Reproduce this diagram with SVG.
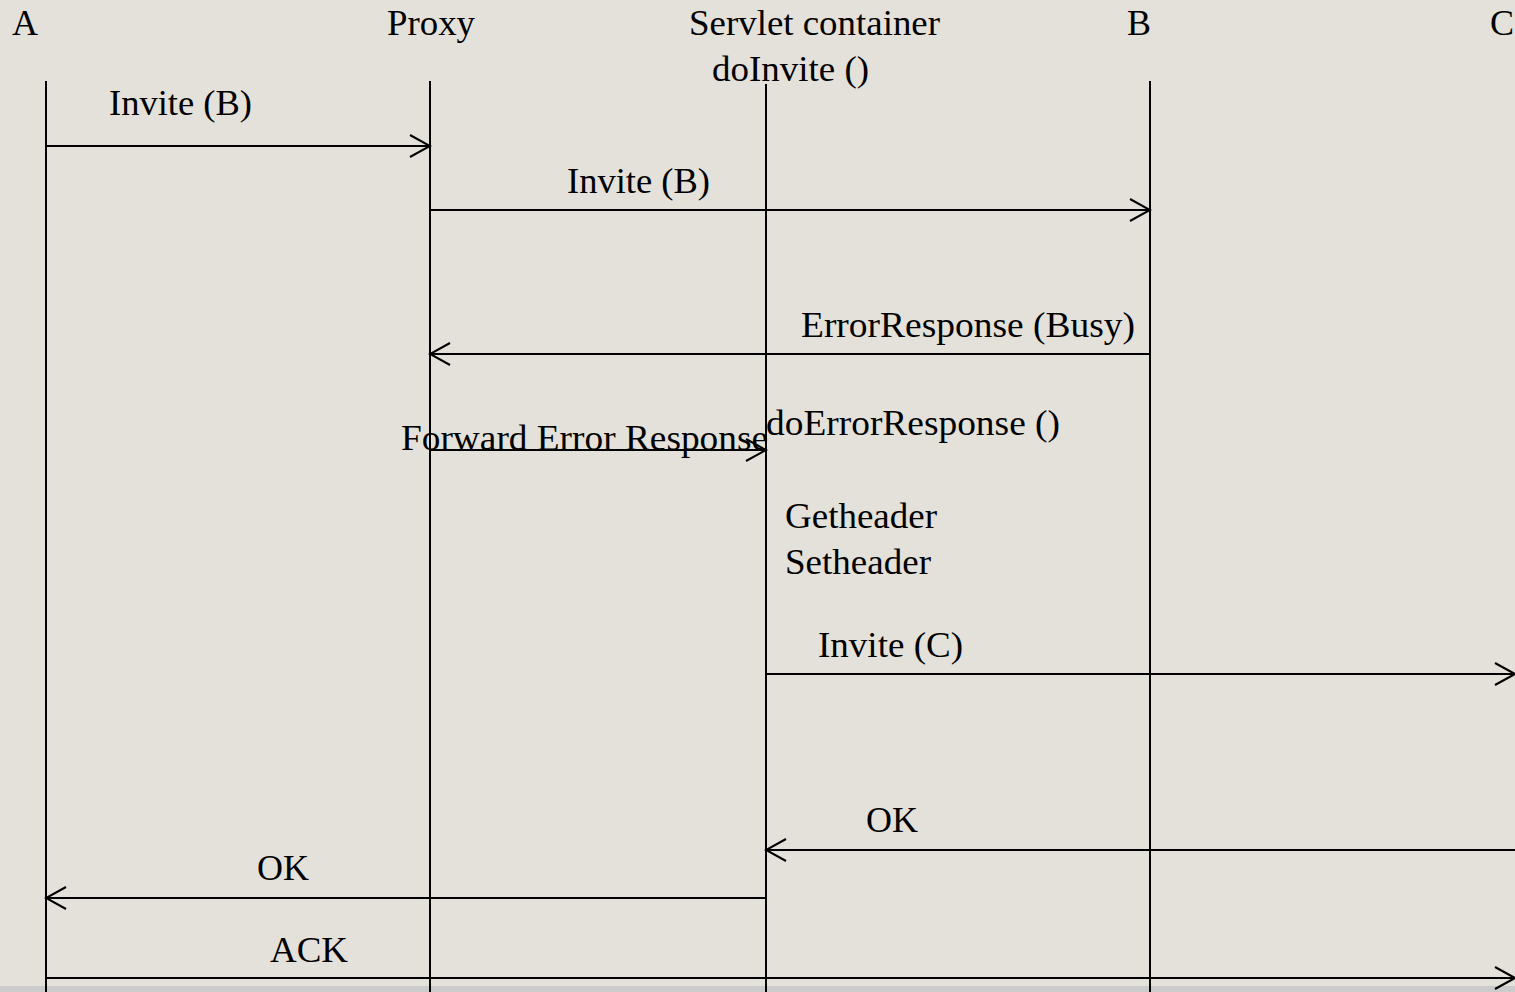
<svg xmlns="http://www.w3.org/2000/svg" width="1515" height="992" viewBox="0 0 1515 992">
  <defs>
    <marker id="open" viewBox="-22 -13 24 26" refX="0" refY="0" markerWidth="24" markerHeight="26" markerUnits="userSpaceOnUse" orient="auto">
      <path d="M-20,-11 L0,0 L-20,11" fill="none" stroke="#000" stroke-width="2"/>
    </marker>
    <style>
      text { font-family: "Liberation Serif", "Times New Roman", serif; font-size: 36px; fill: #000; }
      .life { stroke: #000; stroke-width: 2; }
      .msg { stroke: #000; stroke-width: 2; fill: none; marker-end: url(#open); }
    </style>
  </defs>

  <rect x="0" y="0" width="1515" height="992" fill="#e4e1da"/>
  <rect x="0" y="986" width="1515" height="6" fill="#cbcbcb"/>

  <!-- participants with their lifelines -->
  <g id="node-a">
    <text x="12" y="35">A</text>
    <line class="life" x1="46" y1="81" x2="46" y2="992"/>
  </g>
  <g id="node-proxy">
    <text x="387" y="35" textLength="88" lengthAdjust="spacingAndGlyphs">Proxy</text>
    <line class="life" x1="430" y1="81" x2="430" y2="992"/>
  </g>
  <g id="node-servlet">
    <text x="689" y="35" textLength="251" lengthAdjust="spacingAndGlyphs">Servlet container</text>
    <text x="712" y="81" textLength="157" lengthAdjust="spacingAndGlyphs">doInvite ()</text>
    <line class="life" x1="766" y1="84" x2="766" y2="992"/>
    <text x="766" y="435" textLength="294" lengthAdjust="spacingAndGlyphs">doErrorResponse ()</text>
    <text x="785" y="528" textLength="152" lengthAdjust="spacingAndGlyphs">Getheader</text>
    <text x="785" y="574" textLength="146" lengthAdjust="spacingAndGlyphs">Setheader</text>
  </g>
  <g id="node-b">
    <text x="1127" y="35">B</text>
    <line class="life" x1="1150" y1="81" x2="1150" y2="992"/>
  </g>
  <g id="node-c">
    <text x="1490" y="35">C</text>
  </g>

  <!-- messages -->
  <g id="connectors">
    <line class="msg" x1="46" y1="146" x2="430" y2="146"/>
    <text x="109" y="115" textLength="143" lengthAdjust="spacingAndGlyphs">Invite (B)</text>

    <line class="msg" x1="430" y1="210" x2="1150" y2="210"/>
    <text x="567" y="193" textLength="143" lengthAdjust="spacingAndGlyphs">Invite (B)</text>

    <line class="msg" x1="1150" y1="354" x2="430" y2="354"/>
    <text x="801" y="337" textLength="334" lengthAdjust="spacingAndGlyphs">ErrorResponse (Busy)</text>

    <line class="msg" x1="430" y1="450" x2="766" y2="450"/>
    <text x="401" y="450" textLength="367" lengthAdjust="spacingAndGlyphs">Forward Error Response</text>

    <line class="msg" x1="766" y1="674" x2="1515" y2="674"/>
    <text x="818" y="657" textLength="145" lengthAdjust="spacingAndGlyphs">Invite (C)</text>

    <line class="msg" x1="1515" y1="850" x2="766" y2="850"/>
    <text x="866" y="832">OK</text>

    <line class="msg" x1="766" y1="898" x2="46" y2="898"/>
    <text x="257" y="880">OK</text>

    <line class="msg" x1="46" y1="978" x2="1515" y2="978" stroke-width="3"/>
    <text x="270" y="962" textLength="78" lengthAdjust="spacingAndGlyphs">ACK</text>
  </g>
</svg>
